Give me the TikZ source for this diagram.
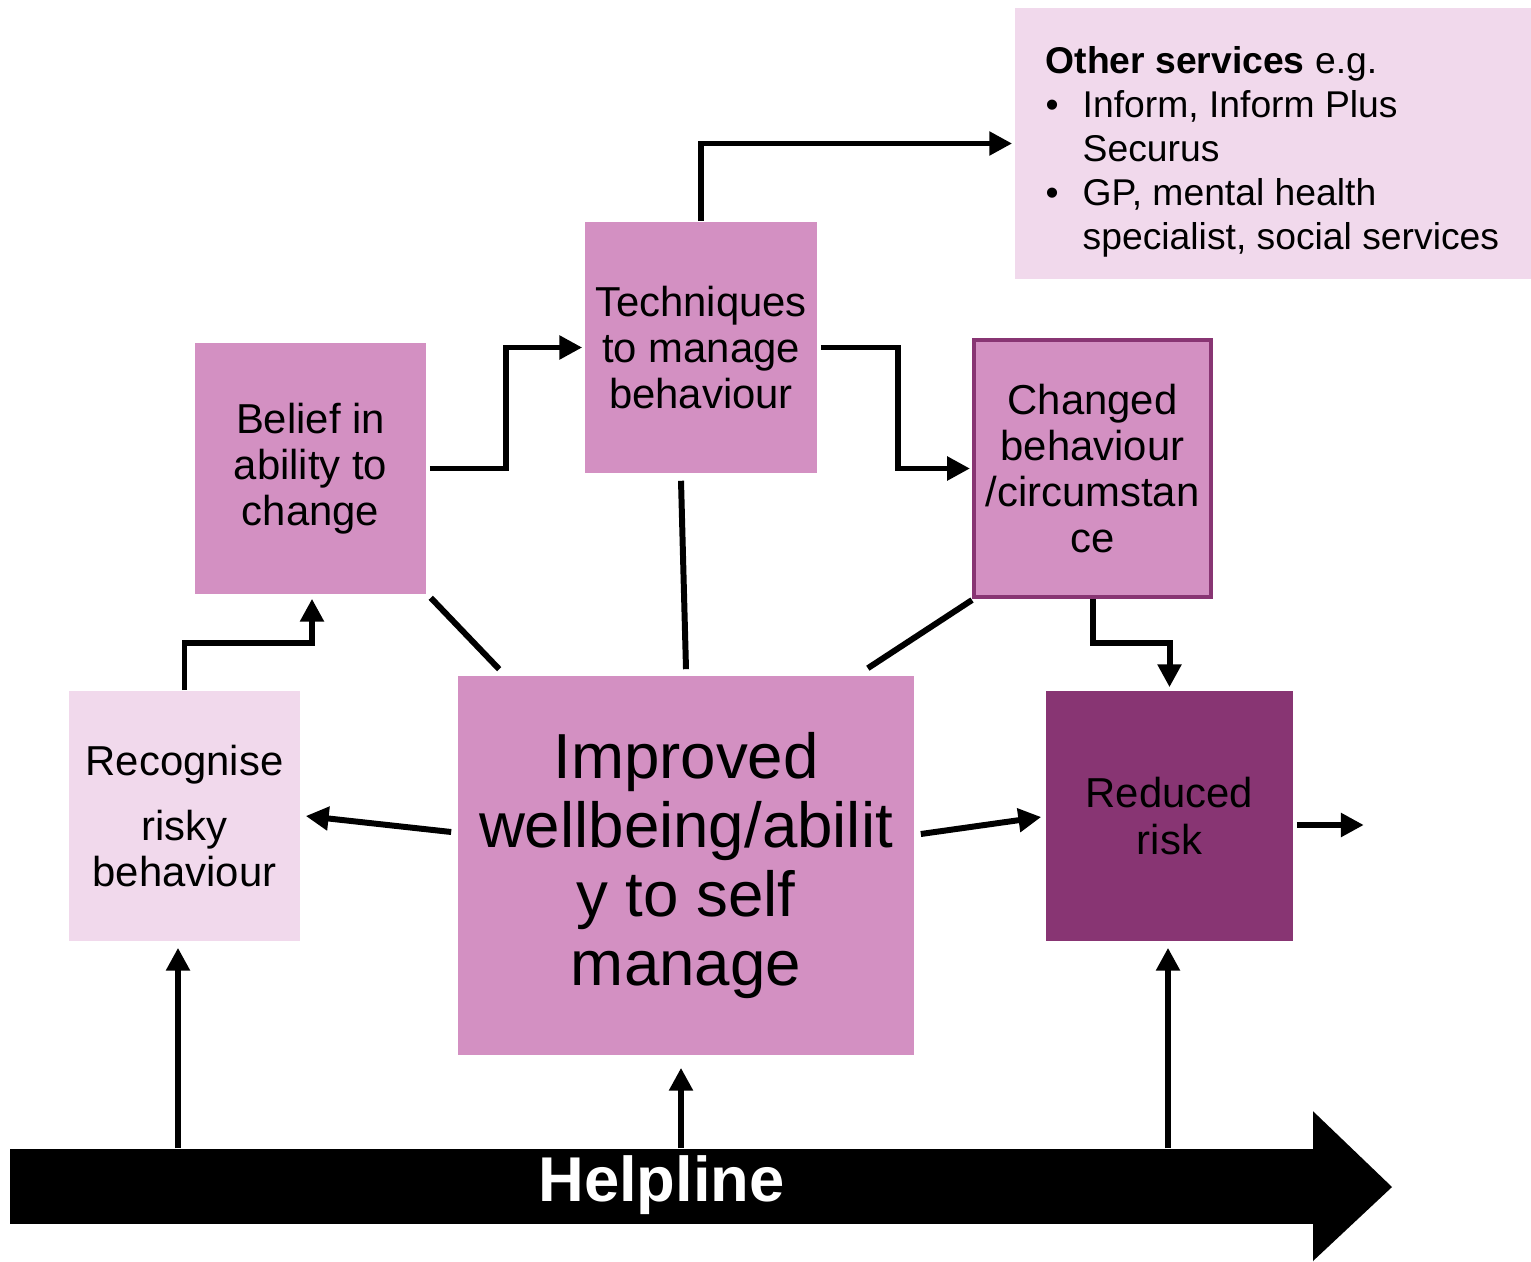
\documentclass[tikz,border=0pt]{standalone}
\usepackage{fontspec}
\setmainfont{Liberation Sans}
\usetikzlibrary{arrows.meta,calc}
\definecolor{medpink}{HTML}{D390C2}
\definecolor{lightpink}{HTML}{F1D9EC}
\definecolor{darkpurple}{HTML}{883573}
\begin{document}
\begin{tikzpicture}[x=0.01cm,y=-0.01cm,
  box/.style={rectangle,inner sep=0pt,align=center,font=\fontsize{11.9pt}{13.1pt}\selectfont},
  conn/.style={line width=1.7pt,line join=miter},
  arr/.style={conn,-{Triangle[length=6.5pt,width=6.5pt]}}]
\useasboundingbox (0,0) rectangle (1531,1261);
% boxes
\node[box,fill=lightpink,minimum width=5.16cm,minimum height=2.71cm] (other) at (1273,143.5) {};
\node[anchor=north west,inner sep=0pt,align=left,font=\fontsize{10.6pt}{12.5pt}\selectfont] (othertxt) at (1045,46)
 {\textbf{Other services} e.g.\\
  \makebox[0.37cm][l]{\textbullet}Inform, Inform Plus\\
  \makebox[0.37cm][l]{}Securus\\
  \makebox[0.37cm][l]{\textbullet}GP, mental health\\
  \makebox[0.37cm][l]{}specialist, social services};
\node[box,fill=medpink,minimum width=2.32cm,minimum height=2.51cm] (tech) at (701,347.5) {Techniques\\to manage\\behaviour};
\node[box,fill=medpink,minimum width=2.31cm,minimum height=2.51cm] (belief) at (310.5,468.5) {Belief in\\ability to\\change};
\node[box,fill=medpink,draw=darkpurple,line width=1.1pt,minimum width=2.37cm,minimum height=2.57cm] (changed) at (1092.5,468.5) {Changed\\behaviour\\/circumstan\\ce};
\node[box,fill=lightpink,minimum width=2.31cm,minimum height=2.50cm] (recog) at (184.5,816) {Recognise\\[5.4pt]risky\\behaviour};
\node[box,fill=medpink,minimum width=4.56cm,minimum height=3.79cm,font=\fontsize{18.1pt}{19.6pt}\selectfont] (improved) at (686,865.5) {Improved\\wellbeing/abilit\\y to self\\manage};
\node[box,fill=darkpurple,minimum width=2.47cm,minimum height=2.50cm] (reduced) at (1169.5,816) {Reduced\\risk};
% helpline arrow
\node[rectangle,fill=black,inner sep=0pt,minimum width=13.03cm,minimum height=0.75cm,text=white,font=\fontsize{18pt}{20pt}\selectfont\bfseries] (hl) at (661.5,1186.5) {\raisebox{0.15cm}{Helpline}};
\fill ($(hl.north east)+(-1,0)$) -- ++(0,-37) -- (1392,1187) -- (1313,1261) -- ($(hl.south east)+(-1,37)$) -- ($(hl.south east)+(-1,0)$) -- cycle;
\coordinate (rrend) at ($(reduced.east)+(70,9)$);
% connectors
\draw[arr,shorten >=0.02cm] (tech.north) |- (other.west);
\draw[arr,shorten <=0.03cm,shorten >=0.02cm] (belief.east) -- ++(79,0) |- (tech.west);
\draw[arr,shorten <=0.03cm,shorten >=0.02cm] (tech.east) -- ++(80,0) |- (changed.west);
\draw[arr,shorten >=0.03cm] (changed.south) -- ++(0,44) -| (reduced.north);
\draw[arr,shorten <=0.03cm] ($(reduced.east)+(0,9)$) -- (rrend);
\draw[arr,shorten >=0.04cm] (recog.north) -- ++(0,-47) -| ($(belief.south)+(1.5,0)$);
\draw[arr] ($(improved.west)+(-6,-33.5)$) -- ($(recog.east)+(5,0)$);
\draw[arr] ($(improved.east)+(6,-31.5)$) -- ($(reduced.west)+(-4,1)$);
\draw[conn] ($(belief.south east)+(4,3)$) -- ($(improved.north west)+(42,-6)$);
\draw[conn] ($(tech.south)+(-20,7)$) -- ($(improved.north)+(0,-6)$);
\draw[conn] ($(changed.south west)+(0,1)$) -- ($(improved.north east)+(-47,-7)$);
\draw[arr] ($(recog.south |- hl.north)+(-6.5,0)$) -- ($(recog.south)+(-6.5,6)$);
\draw[arr] ($(improved.south |- hl.north)+(-5,0)$) -- ($(improved.south)+(-5,12)$);
\draw[arr] ($(reduced.south |- hl.north)+(-1.5,0)$) -- ($(reduced.south)+(-1.5,6)$);
\end{tikzpicture}
\end{document}
